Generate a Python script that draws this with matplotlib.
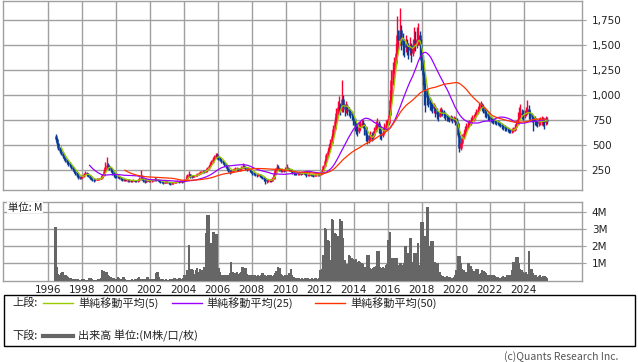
import numpy as np
import pandas as pd
import matplotlib
matplotlib.use("Agg")
import matplotlib.pyplot as plt
from matplotlib.patches import Rectangle
from matplotlib.lines import Line2D

# ---------------- data (monthly, from 1996-06) ----------------
start_year, start_month = 1996, 6
first_open = 590

close = [
    560, 520, 470, 440, 420, 390, 370,                                  # 1996
    350, 330, 310, 300, 280, 260, 240, 225, 205, 185, 175, 180,         # 1997
    190, 210, 225, 215, 195, 175, 165, 160, 150, 155, 160, 160,         # 1998
    165, 175, 200, 240, 280, 300, 290, 270, 260, 230, 200, 185,         # 1999
    180, 190, 175, 165, 155, 160, 150, 155, 145, 150, 140, 145,         # 2000
    150, 145, 140, 150, 160, 175, 165, 150, 135, 145, 150, 140,         # 2001
    140, 145, 150, 160, 155, 150, 140, 135, 130, 125, 130, 135,         # 2002
    130, 120, 115, 120, 125, 130, 135, 140, 135, 140, 135, 140,         # 2003
    150, 165, 200, 210, 190, 185, 190, 195, 200, 210, 220, 225,         # 2004
    230, 240, 235, 250, 270, 290, 310, 330, 360, 385, 400, 390,         # 2005
    375, 355, 340, 330, 310, 290, 270, 250, 235, 240, 250, 260,         # 2006
    265, 270, 255, 260, 275, 290, 285, 270, 260, 265, 250, 235,         # 2007
    220, 215, 205, 200, 210, 195, 185, 180, 165, 140, 145, 150,         # 2008
    150, 145, 165, 215, 250, 285, 270, 255, 245, 250, 245, 260,         # 2009
    275, 265, 255, 245, 230, 220, 215, 210, 215, 220, 215, 225,         # 2010
    220, 215, 200, 205, 210, 205, 200, 195, 200, 205, 200, 210,         # 2011
    215, 245, 290, 340, 400, 440, 480, 520, 590, 660, 740, 820,         # 2012
    880, 900, 850, 960, 880, 860, 890, 860, 840, 820, 800, 760,         # 2013
    700, 650, 640, 680, 700, 720, 710, 680, 600, 550, 560, 600,         # 2014
    580, 600, 640, 700, 720, 680, 620, 600, 620, 680, 700, 720,         # 2015
    800, 950, 1150, 1250, 1320, 1420, 1600, 1550, 1650, 1560, 1500, 1480,  # 2016
    1520, 1480, 1450, 1500, 1420, 1480, 1550, 1520, 1560, 1600, 1500, 1350,  # 2017
    1200, 1050, 1000, 980, 950, 910, 900, 870, 880, 840, 810, 790,      # 2018
    830, 840, 820, 810, 790, 780, 770, 760, 770, 750, 760, 740,         # 2019
    720, 600, 470, 520, 580, 620, 660, 690, 700, 720, 750, 770,         # 2020
    780, 800, 830, 850, 890, 910, 880, 860, 820, 800, 790, 770,         # 2021
    760, 750, 745, 735, 730, 725, 715, 705, 690, 680, 670, 665,         # 2022
    660, 650, 640, 645, 650, 680, 710, 760, 800, 820, 810, 800,         # 2023
    810, 830, 860, 820, 790, 780, 760, 740, 730, 720, 730, 740,         # 2024
    750, 740, 730, 750, 740,                                            # 2025
]

high = [
    610, 575, 525, 480, 450, 430, 395,
    375, 360, 340, 330, 310, 290, 265, 245, 230, 210, 190, 195,
    200, 225, 240, 235, 220, 200, 180, 175, 165, 165, 170, 170,
    175, 190, 215, 265, 330, 385, 320, 300, 285, 265, 235, 205,
    200, 210, 195, 180, 170, 175, 165, 165, 160, 160, 155, 155,
    160, 155, 150, 160, 185, 250, 200, 170, 155, 155, 165, 155,
    150, 155, 165, 185, 175, 165, 155, 145, 140, 135, 140, 145,
    140, 135, 125, 130, 135, 140, 145, 150, 145, 150, 145, 150,
    160, 180, 215, 240, 215, 200, 200, 205, 210, 220, 230, 240,
    245, 255, 250, 265, 285, 305, 330, 350, 380, 405, 420, 425,
    400, 385, 365, 350, 335, 315, 295, 275, 255, 255, 265, 275,
    280, 285, 275, 275, 290, 320, 305, 290, 275, 280, 270, 255,
    240, 230, 220, 215, 225, 215, 200, 195, 185, 170, 160, 165,
    165, 160, 180, 230, 275, 315, 300, 275, 265, 265, 260, 280,
    315, 285, 275, 265, 250, 235, 230, 225, 225, 235, 230, 235,
    235, 230, 220, 215, 220, 215, 210, 210, 210, 215, 210, 220,
    225, 260, 305, 365, 425, 470, 510, 560, 620, 700, 780, 870,
    940, 990, 920, 1150, 1000, 910, 940, 910, 880, 860, 840, 810,
    770, 720, 690, 730, 740, 760, 750, 720, 690, 610, 600, 640,
    630, 640, 680, 740, 770, 740, 700, 640, 660, 720, 750, 760,
    850, 1050, 1250, 1330, 1380, 1520, 1790, 1650, 1870, 1700, 1620, 1560,
    1600, 1560, 1520, 1580, 1520, 1560, 1680, 1640, 1680, 1720, 1640, 1560,
    1400, 1230, 1120, 1060, 1020, 980, 960, 930, 920, 900, 870, 840,
    870, 880, 860, 850, 830, 810, 800, 790, 800, 790, 790, 780,
    770, 730, 620, 560, 610, 650, 690, 720, 740, 750, 780, 800,
    810, 830, 860, 880, 920, 940, 920, 900, 870, 840, 820, 800,
    790, 780, 770, 760, 755, 750, 740, 730, 720, 710, 700, 690,
    685, 675, 665, 670, 680, 710, 750, 830, 880, 910, 860, 850,
    850, 880, 950, 900, 840, 820, 800, 790, 770, 760, 770, 780,
    790, 780, 770, 790, 780,
]

low = [
    545, 500, 450, 420, 400, 375, 350,
    335, 315, 290, 280, 265, 245, 225, 205, 185, 165, 160, 165,
    175, 185, 205, 195, 180, 165, 150, 145, 135, 140, 150, 150,
    155, 160, 175, 195, 235, 265, 260, 250, 235, 205, 185, 170,
    170, 175, 160, 150, 145, 145, 140, 140, 135, 135, 130, 135,
    140, 135, 130, 135, 145, 155, 150, 135, 125, 130, 140, 130,
    130, 135, 140, 145, 140, 140, 130, 125, 120, 115, 120, 125,
    120, 110, 105, 110, 115, 120, 125, 130, 125, 130, 125, 130,
    138, 148, 160, 185, 175, 175, 180, 185, 190, 195, 205, 210,
    215, 225, 220, 230, 245, 265, 285, 305, 325, 355, 375, 365,
    355, 340, 320, 310, 290, 270, 250, 230, 215, 225, 235, 245,
    250, 255, 240, 245, 255, 270, 270, 250, 245, 250, 235, 220,
    205, 200, 190, 185, 195, 180, 170, 165, 140, 110, 125, 135,
    135, 130, 140, 160, 210, 245, 255, 240, 230, 235, 230, 240,
    255, 250, 240, 230, 215, 205, 200, 200, 200, 205, 205, 210,
    210, 200, 185, 190, 195, 195, 190, 185, 190, 195, 190, 195,
    200, 210, 240, 285, 330, 385, 430, 470, 510, 580, 650, 730,
    800, 830, 800, 830, 830, 790, 820, 800, 790, 770, 750, 700,
    640, 610, 590, 620, 650, 680, 670, 600, 540, 510, 520, 550,
    540, 555, 590, 630, 670, 620, 560, 550, 580, 620, 650, 670,
    700, 780, 920, 1100, 1220, 1300, 1400, 1450, 1500, 1450, 1400, 1380,
    1430, 1400, 1360, 1400, 1330, 1390, 1450, 1440, 1470, 1500, 1380, 1250,
    1100, 900, 830, 900, 880, 850, 840, 820, 820, 780, 760, 740,
    780, 800, 790, 770, 750, 740, 740, 730, 740, 720, 730, 700,
    690, 580, 430, 450, 510, 560, 600, 640, 670, 680, 700, 730,
    740, 760, 790, 810, 840, 870, 840, 820, 780, 770, 750, 740,
    730, 720, 715, 710, 700, 700, 690, 680, 665, 655, 645, 640,
    635, 625, 620, 625, 630, 645, 670, 700, 740, 770, 760, 750,
    770, 790, 810, 760, 740, 730, 640, 700, 690, 680, 690, 700,
    700, 690, 660, 700, 710,
]

volume_m = [
    3.1, 0.8, 0.4, 0.3, 0.45, 0.5, 0.35,
    0.3, 0.25, 0.2, 0.15, 0.12, 0.1, 0.08, 0.1, 0.08, 0.06, 0.05, 0.05,
    0.06, 0.08, 0.05, 0.04, 0.05, 0.12, 0.15, 0.08, 0.05, 0.04, 0.05, 0.06,
    0.1, 0.15, 0.6, 0.55, 0.45, 0.5, 0.3, 0.25, 0.2, 0.15, 0.12, 0.1,
    0.1, 0.2, 0.12, 0.08, 0.06, 0.2, 0.1, 0.05, 0.05, 0.04, 0.05, 0.06,
    0.05, 0.08, 0.1, 0.15, 0.2, 0.1, 0.08, 0.06, 0.05, 0.1, 0.2, 0.08,
    0.06, 0.05, 0.08, 0.1, 0.45, 0.5, 0.2, 0.1, 0.08, 0.06, 0.05, 0.06,
    0.05, 0.04, 0.06, 0.1, 0.08, 0.12, 0.1, 0.1, 0.15, 0.12, 0.1, 0.15,
    0.3, 0.25, 0.6, 2.1, 0.5, 0.7, 0.6, 0.4, 0.6, 0.75, 0.5, 0.7,
    0.6, 0.5, 0.8, 2.8, 3.85, 3.8, 2.0, 2.2, 2.85, 2.85, 2.7, 2.7,
    0.75, 0.5, 0.35, 0.3, 0.25, 0.3, 0.3, 0.35, 0.45, 1.1, 0.5, 0.4,
    0.45, 0.5, 0.4, 0.45, 0.5, 0.8, 0.6, 0.75, 0.4, 0.3, 0.3, 0.35,
    0.3, 0.35, 0.3, 0.25, 0.3, 0.25, 0.3, 0.45, 0.35, 0.3, 0.25, 0.3,
    0.35, 0.3, 0.25, 0.3, 0.45, 0.55, 0.8, 0.75, 0.4, 0.3, 0.25, 0.3,
    0.35, 0.3, 0.45, 0.65, 0.3, 0.2, 0.15, 0.15, 0.12, 0.15, 0.1, 0.12,
    0.1, 0.12, 0.15, 0.12, 0.1, 0.1, 0.12, 0.1, 0.15, 0.12, 0.1, 0.12,
    0.6, 0.7, 1.5, 3.05, 3.0, 2.35, 2.3, 1.2, 3.6, 3.55, 2.8, 2.7,
    2.6, 2.0, 3.6, 3.5, 2.5, 1.2, 0.9, 0.95, 1.5, 1.45, 1.3, 1.25,
    1.2, 1.25, 1.1, 1.15, 1.1, 1.0, 0.95, 0.8, 0.75, 1.5, 1.5, 0.75,
    0.7, 0.75, 0.8, 0.85, 1.75, 1.7, 0.8, 0.75, 0.8, 0.75, 0.9, 0.95,
    2.35, 2.85, 1.3, 1.3, 0.9, 1.3, 1.3, 0.9, 1.0, 1.0, 0.9, 1.0,
    2.0, 1.6, 1.6, 2.5, 2.5, 1.1, 1.6, 1.6, 1.1, 2.2, 0.9, 3.4,
    3.4, 2.6, 2.6, 4.3, 4.3, 2.0, 2.3, 2.3, 0.7, 1.1, 1.05, 1.05,
    0.5, 0.3, 0.25, 0.2, 0.2, 0.25, 0.2, 0.2, 0.15, 0.15, 0.2, 0.3,
    0.6, 1.45, 1.45, 1.0, 0.7, 0.6, 0.45, 0.5, 1.05, 1.05, 0.85, 0.7,
    0.55, 0.5, 0.7, 0.65, 0.4, 0.45, 0.6, 0.55, 0.5, 0.45, 0.35, 0.3,
    0.3, 0.25, 0.3, 0.25, 0.2, 0.2, 0.15, 0.15, 0.2, 0.25, 0.2, 0.2,
    0.3, 0.3, 0.35, 0.6, 1.1, 1.1, 1.35, 1.4, 1.0, 0.7, 0.6, 0.5,
    0.45, 0.5, 0.4, 1.75, 0.7, 0.7, 0.45, 0.35, 0.35, 0.2, 0.25, 0.3,
    0.2, 0.25, 0.25, 0.2, 0.15,
]

year_ticks = list(range(1996, 2025, 2))
price_ticks = [250, 500, 750, 1000, 1250, 1500, 1750]
vol_ticks = [1, 2, 3, 4]
ma_windows = [5, 25, 50]
ma_labels = ["単純移動平均(5)", "単純移動平均(25)", "単純移動平均(50)"]

# ---------------- derived ----------------
n = len(close)
t = start_year + (start_month - 1) / 12 + (np.arange(n) + 0.5) / 12
close_s = pd.Series(close, dtype=float)
opens = np.concatenate([[first_open], close_s.values[:-1]])
closes = close_s.values
up = closes >= opens

UP_C = "#ff0033"
DN_C = "#0a3a96"
MA_C = ["#99cc00", "#9900ff", "#ff3300"]
GRID_C = "#a0a0a0"
VOL_C = "#666666"
JP = ["Noto Sans CJK JP", "DejaVu Sans"]

W, H = 638, 362
fig = plt.figure(figsize=(W / 100, H / 100), dpi=100)

def fx(px):
    return px / W

def fy(py):
    return 1 - py / H

ax1 = fig.add_axes([fx(3), fy(190), fx(582) - fx(3), fy(1) - fy(190)])
ax2 = fig.add_axes([fx(3), fy(280.5), fx(582) - fx(3), fy(202) - fy(280.5)])

x0 = 1996 - 44.7 / 17.0
x1 = 2024 + 58.1 / 17.0

for ax in (ax1, ax2):
    ax.set_xlim(x0, x1)
    ax.set_xticks(year_ticks)
    ax.grid(True, color=GRID_C, linewidth=1.0)
    ax.set_axisbelow(True)
    for sp in ax.spines.values():
        sp.set_color(GRID_C)
        sp.set_linewidth(1.0)
    ax.yaxis.tick_right()
    ax.tick_params(axis="x", length=0)
    ax.tick_params(axis="y", length=3, color=GRID_C, labelsize=7.5, pad=4,
                   labelcolor="#222222")

# ---- price panel ----
ax1.set_ylim(50, 1940)
ax1.set_yticks(price_ticks)
ax1.set_yticklabels([f"{v:,}" for v in price_ticks])
ax1.tick_params(axis="x", labelbottom=False)

cols = np.where(up, UP_C, DN_C)
ax1.vlines(t, low, high, colors=cols, linewidth=1.0, zorder=3)
ax1.vlines(t, opens, closes, colors=cols, linewidth=1.8, zorder=3)

for w, c in zip(ma_windows, MA_C):
    ma = close_s.rolling(w).mean()
    ax1.plot(t, ma.values, color=c, linewidth=0.9, zorder=4)

# ---- volume panel ----
ax2.set_ylim(0, 4.58)
ax2.set_yticks(vol_ticks)
ax2.set_yticklabels([f"{v}M" for v in vol_ticks])
ax2.bar(t, volume_m, width=1 / 12 * 1.6, color=VOL_C, linewidth=0, zorder=3,
        antialiased=False)
ax2.tick_params(axis="x", labelsize=7.5, pad=3, labelcolor="#222222")
ax2.text(0.009, 0.93, "単位: M", transform=ax2.transAxes, fontsize=7.5,
         family=JP, va="center", ha="left", color="#222222", zorder=5,
         bbox=dict(facecolor="white", edgecolor="none", pad=0.6))

# ---- legend box ----
fig.patches.append(Rectangle((fx(3.5), fy(346)), fx(635) - fx(3.5), fy(295) - fy(346),
                             transform=fig.transFigure, fill=False,
                             edgecolor="black", linewidth=1.0))
row1, row2 = 303, 336
LFS = 8
fig.text(fx(12), fy(row1), "上段:", fontsize=LFS, family=JP, va="center", color="#222222")
seg = [(43, 73, 78), (172, 202, 206), (315, 345, 350)]
for (a, b, tx), c, lab in zip(seg, MA_C, ma_labels):
    fig.lines.append(Line2D([fx(a), fx(b)], [fy(row1), fy(row1)],
                            transform=fig.transFigure, color=c, linewidth=1.0))
    fig.text(fx(tx), fy(row1), lab, fontsize=LFS, family=JP, va="center", color="#222222")
fig.text(fx(12), fy(row2), "下段:", fontsize=LFS, family=JP, va="center", color="#222222")
fig.lines.append(Line2D([fx(43), fx(73)], [fy(row2), fy(row2)],
                        transform=fig.transFigure, color=VOL_C, linewidth=3.0))
fig.text(fx(78), fy(row2), "出来高 単位:(M株/口/枚)", fontsize=LFS, family=JP,
         va="center", color="#222222")

fig.text(fx(618), fy(357), "(c)Quants Research Inc.", fontsize=7.5, family=JP,
         ha="right", va="center", color="#555555")

fig.savefig("out.png", dpi=100)
